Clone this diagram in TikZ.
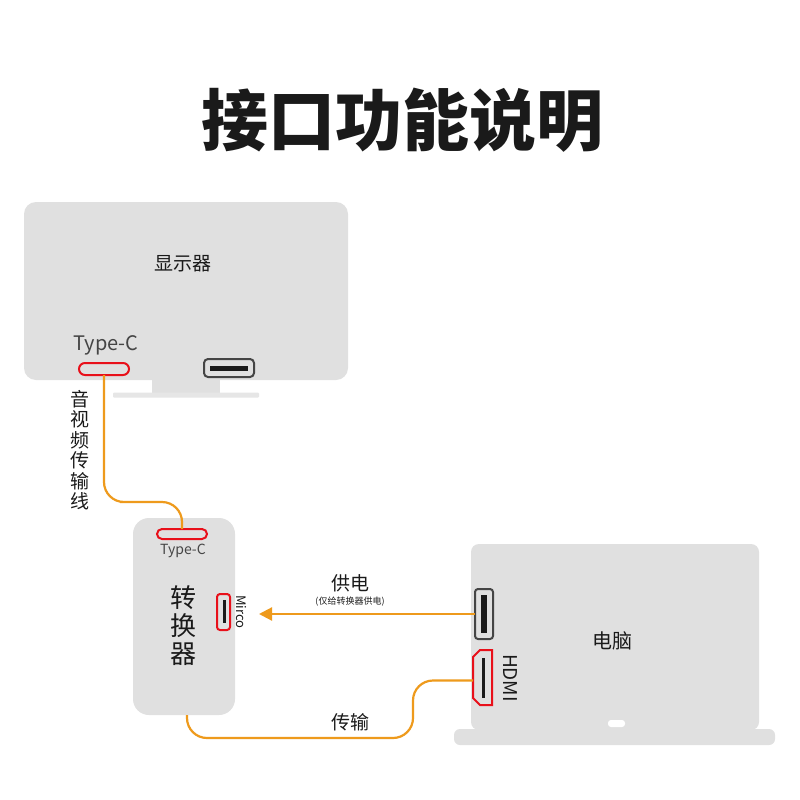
\documentclass[tikz,border=0pt]{standalone}
\usepackage{fontspec}
\setmainfont{Noto Sans CJK SC}
\usetikzlibrary{arrows.meta}
\definecolor{bodygray}{HTML}{E0E0E0}
\definecolor{bargray}{HTML}{E6E6E6}
\definecolor{wireorange}{HTML}{EE9A1C}
\definecolor{portred}{HTML}{E8101A}
\definecolor{portedge}{HTML}{454545}
\definecolor{ink}{HTML}{1A1A1A}
\tikzset{
  wh/.style 2 args={minimum width=#1, minimum height=#2},
  panel/.style={fill=bodygray, rounded corners=#1, inner sep=0pt, outer sep=0pt},
  redport/.style={draw=portred, line width=2pt, rounded corners=#1, inner sep=0pt, outer sep=0pt},
  grayport/.style={draw=portedge, line width=2pt, rounded corners=#1, inner sep=0pt, outer sep=0pt},
  wire/.style={draw=wireorange, line width=2.2pt, rounded corners=20pt},
  lbl/.style={text=ink, inner sep=0pt, font=\fontsize{#1}{#1}\selectfont},
  stack/.style 2 args={text=ink, inner sep=0pt, align=center, font=\fontsize{#1}{#2}\selectfont}
}

\begin{document}
\begin{tikzpicture}[x=1pt, y=-1pt]
  \useasboundingbox[fill=white] (0,0) rectangle (800,800);
  \node[text=ink, inner sep=0pt, font=\bfseries\fontsize{67}{72}\selectfont] (title) at (402,120) {接口功能说明};

  % monitor
  \node[panel=0pt, fill=bodygray, wh={68pt}{14pt}] (neck) at (186,386) {};
  \node[panel=1pt, fill=bargray, wh={146pt}{5pt}] (standbar) at (186,395) {};
  \node[panel=12pt, wh={324pt}{178pt}] (monitor) at (186,291) {};
  \node[lbl=19] (montext) at (183,264) {显示器};
  \node[lbl=20, text=portedge] (montc) at (106,345) {Type-C};
  \node[redport=6pt, wh={50pt}{12pt}] (tcmon) at (104,369) {};
  \node[grayport=4pt, wh={50pt}{18pt}] (usbmon) at (229,368) {};
  \fill[ink] (210,366) rectangle (248,370.5);

  % converter
  \node[panel=16pt, wh={102pt}{197pt}] (conv) at (184,616.5) {};
  \node[redport=5pt, wh={50pt}{10pt}] (tcconv) at (182,534) {};
  \node[lbl=14, text=portedge] (convtc) at (183,551) {Type-C};
  \node[stack={26}{28}] (convtext) at (183,626) {转\\换\\器};
  \node[redport=3pt, wh={13pt}{36pt}] (mirco) at (223.5,612) {};
  \fill[ink] (223,600) rectangle (225.5,623);
  \node[lbl=13, rotate=-90] (mircotext) at (241,612) {Mirco};

  % laptop
  \node[panel=6pt, wh={321pt}{16pt}] (lapbase) at (614.5,737) {};
  \node[panel=8pt, wh={288pt}{186pt}] (laptop) at (615,637) {};
  \node[lbl=20] (laptext) at (612,641) {电脑};
  \node[fill=white, rounded corners=3pt, inner sep=0pt, wh={17pt}{7pt}] (slot) at (616.5,723.5) {};
  \node[grayport=3pt, wh={18pt}{50pt}] (usblap) at (484,614) {};
  \fill[ink] (481,595) rectangle (487,633);
  \node[inner sep=0pt, outer sep=0pt, wh={19pt}{55pt}] (hdmi) at (482.5,677.5) {};
  \draw[portred, line width=2pt] (hdmi.north east) -- (hdmi.south east)
    -- ([xshift=7pt]hdmi.south west) -- ([yshift=7pt]hdmi.south west)
    -- ([yshift=-7pt]hdmi.north west) -- ([xshift=7pt]hdmi.north west) -- cycle;
  \fill[ink] (482,658) rectangle (484.5,698);
  \node[lbl=19, rotate=-90] (hdmitext) at (510,678) {HDMI};

  % cables
  \coordinate (bendA) at (140,502);
  \draw[wire] (tcmon.south) |- (bendA) -| (tcconv.north);
  \node[stack={19}{20.5}] (avtext) at (80,450) {音\\视\\频\\传\\输\\线};

  \coordinate (feed) at (259,614);
  \draw[wire, -{Triangle[length=13pt, width=13pt]}] (usblap.west) -- (feed);
  \node[lbl=19] (powertext) at (350,583) {供电};
  \node[lbl=9] (powernote) at (350,602) {(仅给转换器供电)};

  \coordinate (bendB) at (300,738);
  \coordinate (bendC) at (413,680.5);
  \draw[wire] ([xshift=3pt]conv.south) |- (bendB) -| (bendC) -- ([yshift=-3pt]hdmi.west);
  \node[lbl=19] (sendtext) at (350,722) {传输};
\end{tikzpicture}
\end{document}
